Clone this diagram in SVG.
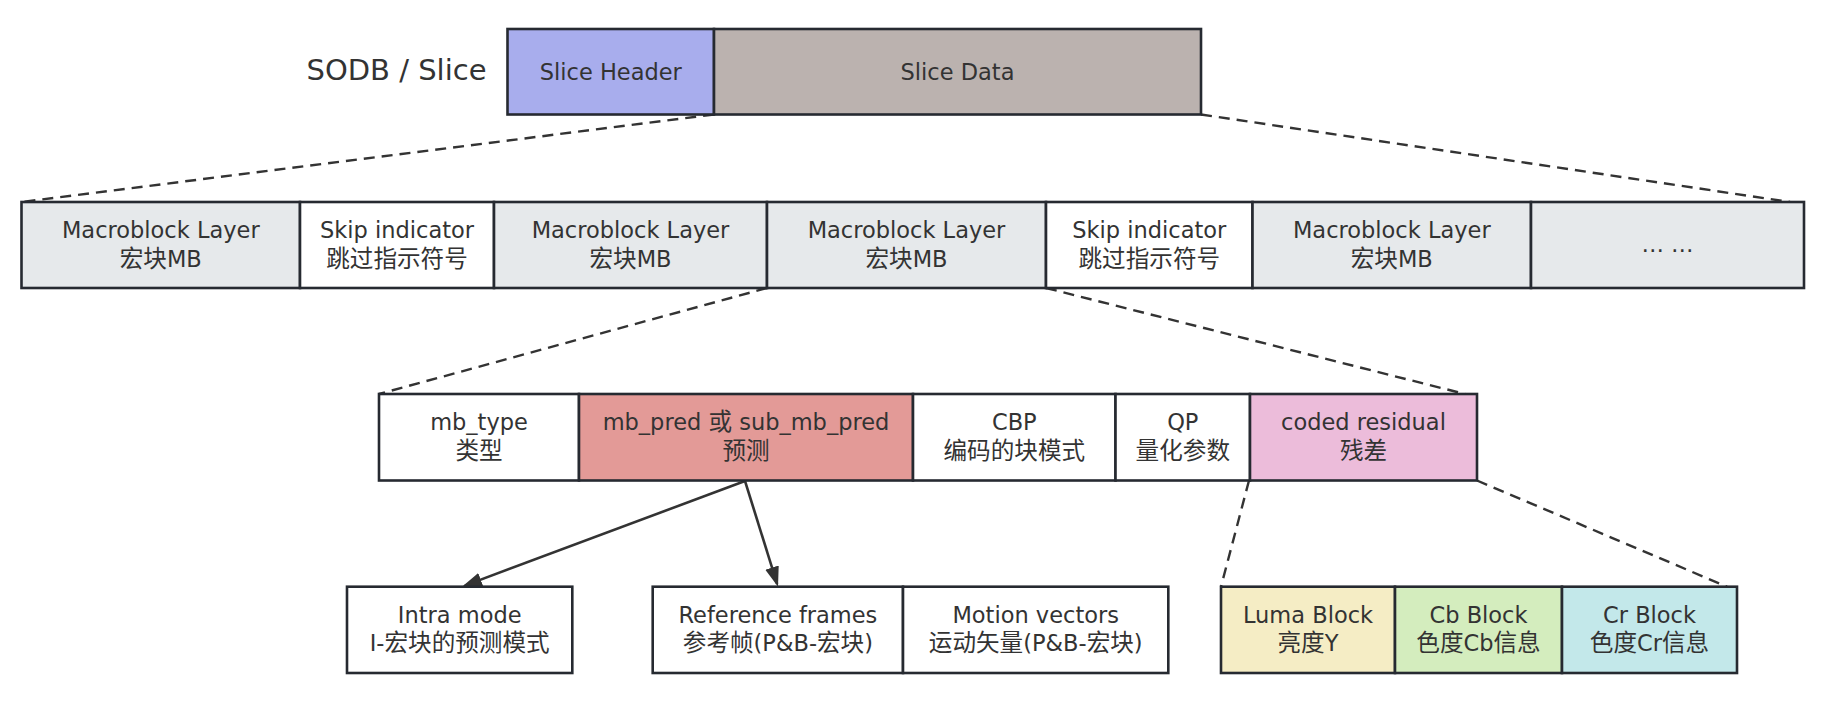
<svg xmlns="http://www.w3.org/2000/svg" width="1834" height="708" viewBox="0 0 1834 708">
<style>
  .box { stroke: #262a31; stroke-width: 2.6; }
  .t { font-family: "DejaVu Sans", "Noto Sans CJK SC", sans-serif; font-size: 22.5px; fill: #333333; text-anchor: middle; }
  .c { font-family: "Noto Sans CJK SC", sans-serif; font-size: 23.6px; }
  .title { font-family: "DejaVu Sans", "Noto Sans CJK SC", sans-serif; font-size: 29px; fill: #333333; text-anchor: middle; }
  .dash { fill: none; stroke: #333333; stroke-width: 2.4; stroke-dasharray: 11 7; }
  .arrow { fill: none; stroke: #333333; stroke-width: 2.6; marker-end: url(#ah); }
  .gray { fill: #E6E9EB; }
  .white { fill: #FFFFFF; }
</style>
<defs>
  <marker id="ah" markerUnits="userSpaceOnUse" markerWidth="22" markerHeight="16" refX="17" refY="7" orient="auto">
    <path d="M0,0 L20,7 L0,14 Z" fill="#333333"/>
  </marker>
</defs>
<rect width="1834" height="708" fill="#FFFFFF"/>

<g id="connectors">
  <line class="dash" x1="714" y1="114.5" x2="21.5" y2="202"/>
  <line class="dash" x1="1201" y1="114.5" x2="1790" y2="202"/>
  <line class="dash" x1="767" y1="288" x2="379" y2="394"/>
  <line class="dash" x1="1046" y1="288" x2="1465" y2="394"/>
  <line class="dash" x1="1249" y1="480.5" x2="1221" y2="586.7"/>
  <line class="dash" x1="1477" y1="480.5" x2="1727" y2="586.7"/>
  <line class="arrow" x1="745" y1="481" x2="464.8" y2="585.6"/>
  <line class="arrow" x1="745" y1="481" x2="777.1" y2="583.8"/>
</g>

<g id="title">
  <text class="title" x="396.5" y="80">SODB / Slice</text>
</g>

<g id="slice-header">
  <rect class="box" x="507.5" y="29" width="206.5" height="85.5" fill="#A8ADED"/>
  <text class="t" x="610.8" y="79.5">Slice Header</text>
</g>
<g id="slice-data">
  <rect class="box" x="714" y="29" width="487" height="85.5" fill="#BBB2AF"/>
  <text class="t" x="957.5" y="79.5">Slice Data</text>
</g>

<g id="mb1">
  <rect class="box gray" x="21.5" y="202" width="278.5" height="86"/>
  <text class="t" x="160.8" y="238">Macroblock Layer</text>
  <text class="t" x="160.8" y="266.5"><tspan class="c">宏块</tspan>MB</text>
</g>
<g id="skip1">
  <rect class="box white" x="300" y="202" width="194" height="86"/>
  <text class="t" x="397" y="238">Skip indicator</text>
  <text class="t" x="397" y="266.5"><tspan class="c">跳过指示符号</tspan></text>
</g>
<g id="mb2">
  <rect class="box gray" x="494" y="202" width="273" height="86"/>
  <text class="t" x="630.5" y="238">Macroblock Layer</text>
  <text class="t" x="630.5" y="266.5"><tspan class="c">宏块</tspan>MB</text>
</g>
<g id="mb3">
  <rect class="box gray" x="767" y="202" width="279" height="86"/>
  <text class="t" x="906.5" y="238">Macroblock Layer</text>
  <text class="t" x="906.5" y="266.5"><tspan class="c">宏块</tspan>MB</text>
</g>
<g id="skip2">
  <rect class="box white" x="1046" y="202" width="206.5" height="86"/>
  <text class="t" x="1149.3" y="238">Skip indicator</text>
  <text class="t" x="1149.3" y="266.5"><tspan class="c">跳过指示符号</tspan></text>
</g>
<g id="mb4">
  <rect class="box gray" x="1252.5" y="202" width="278.5" height="86"/>
  <text class="t" x="1391.8" y="238">Macroblock Layer</text>
  <text class="t" x="1391.8" y="266.5"><tspan class="c">宏块</tspan>MB</text>
</g>
<g id="more">
  <rect class="box gray" x="1531" y="202" width="273" height="86"/>
  <text class="t" x="1667.5" y="252">… …</text>
</g>

<g id="mb-type">
  <rect class="box white" x="379" y="394" width="200" height="86.5"/>
  <text class="t" x="479" y="430.3">mb_type</text>
  <text class="t" x="479" y="458.8"><tspan class="c">类型</tspan></text>
</g>
<g id="mb-pred">
  <rect class="box" x="579" y="394" width="334" height="86.5" fill="#E39A97"/>
  <text class="t" x="746" y="430.3">mb_pred <tspan class="c">或</tspan> sub_mb_pred</text>
  <text class="t" x="746" y="458.8"><tspan class="c">预测</tspan></text>
</g>
<g id="cbp">
  <rect class="box white" x="913" y="394" width="202.5" height="86.5"/>
  <text class="t" x="1014.3" y="430.3">CBP</text>
  <text class="t" x="1014.3" y="458.8"><tspan class="c">编码的块模式</tspan></text>
</g>
<g id="qp">
  <rect class="box white" x="1115.5" y="394" width="134.5" height="86.5"/>
  <text class="t" x="1182.8" y="430.3">QP</text>
  <text class="t" x="1182.8" y="458.8"><tspan class="c">量化参数</tspan></text>
</g>
<g id="coded-residual">
  <rect class="box" x="1250" y="394" width="227" height="86.5" fill="#ECBCDA"/>
  <text class="t" x="1363.5" y="430.3">coded residual</text>
  <text class="t" x="1363.5" y="458.8"><tspan class="c">残差</tspan></text>
</g>

<g id="intra-mode">
  <rect class="box white" x="347" y="586.7" width="225.3" height="86.3"/>
  <text class="t" x="459.7" y="622.9">Intra mode</text>
  <text class="t" x="459.7" y="651.4">I-<tspan class="c">宏块的预测模式</tspan></text>
</g>
<g id="reference-frames">
  <rect class="box white" x="652.7" y="586.7" width="250.3" height="86.3"/>
  <text class="t" x="777.9" y="622.9">Reference frames</text>
  <text class="t" x="777.9" y="651.4"><tspan class="c">参考帧</tspan>(P&amp;B-<tspan class="c">宏块</tspan>)</text>
</g>
<g id="motion-vectors">
  <rect class="box white" x="903" y="586.7" width="265.3" height="86.3"/>
  <text class="t" x="1035.7" y="622.9">Motion vectors</text>
  <text class="t" x="1035.7" y="651.4"><tspan class="c">运动矢量</tspan>(P&amp;B-<tspan class="c">宏块</tspan>)</text>
</g>
<g id="luma-block">
  <rect class="box" x="1221" y="586.7" width="174" height="86.3" fill="#F5EDC5"/>
  <text class="t" x="1308" y="622.9">Luma Block</text>
  <text class="t" x="1308" y="651.4"><tspan class="c">亮度</tspan>Y</text>
</g>
<g id="cb-block">
  <rect class="box" x="1395" y="586.7" width="167" height="86.3" fill="#D4EDBE"/>
  <text class="t" x="1478.5" y="622.9">Cb Block</text>
  <text class="t" x="1478.5" y="651.4"><tspan class="c">色度</tspan>Cb<tspan class="c">信息</tspan></text>
</g>
<g id="cr-block">
  <rect class="box" x="1562" y="586.7" width="175" height="86.3" fill="#C3E8EA"/>
  <text class="t" x="1649.5" y="622.9">Cr Block</text>
  <text class="t" x="1649.5" y="651.4"><tspan class="c">色度</tspan>Cr<tspan class="c">信息</tspan></text>
</g>
</svg>
